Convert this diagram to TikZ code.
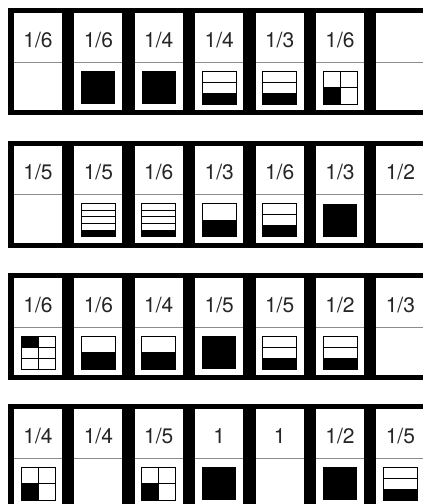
\documentclass[tikz,border=0pt]{standalone}
\usepackage{fontspec}
\setmainfont{TeX Gyre Heros}
\tikzset{
  iconline/.style={draw=black, line width=0.8pt},
  divider/.style={draw=black!45, line width=0.7pt},
  cardlabel/.style={font=\fontsize{21}{24}\selectfont, text=black!85, inner sep=0pt, anchor=center},
}
\newcommand\iconN{}
\newcommand\iconS{\fill (0,0) rectangle (34,33);}
\newcommand\iconstripes[1]{%
  \draw[iconline] (0,0) rectangle (34,33);
  \foreach \k in {1,...,#1}{\draw[iconline] (0,{33*\k/#1}) -- (34,{33*\k/#1});}
  \fill (0,{33-33/#1}) rectangle (34,33);}
\newcommand\icontwo{\iconstripes{2}}
\newcommand\iconthree{\iconstripes{3}}
\newcommand\iconfive{\iconstripes{5}}
\newcommand\iconQ{%
  \draw[iconline] (0,0) rectangle (34,33);
  \draw[iconline] (17,0) -- (17,33) (0,16.5) -- (34,16.5);
  \fill (0,16.5) rectangle (17,33);}
\newcommand\iconX{%
  \draw[iconline] (0,0) rectangle (34,33);
  \draw[iconline] (17,0) -- (17,33) (0,11) -- (34,11) (0,22) -- (34,22);
  \fill (0,0) rectangle (17,11);}
\begin{document}
\begin{tikzpicture}[x=1pt,y=-1pt]
\useasboundingbox (0,0) rectangle (423,504);
\fill[white] (0,0) rectangle (423,504);
\clip (0,0) rectangle (423,504);
\foreach \row/\top/\cards in {
  1/8/{{1/6}/N,{1/6}/S,{1/4}/S,{1/4}/three,{1/3}/three,{1/6}/Q,{}/N},
  2/140.5/{{1/5}/N,{1/5}/five,{1/6}/five,{1/3}/two,{1/6}/three,{1/3}/S,{1/2}/N},
  3/273/{{1/6}/X,{1/6}/two,{1/4}/two,{1/5}/S,{1/5}/three,{1/2}/three,{1/3}/N},
  4/404/{{1/4}/Q,{1/4}/N,{1/5}/Q,{1}/S,{1}/N,{1/2}/S,{1/5}/three}}{
  \fill[black] (8,\top) rectangle (440,\top+107);
  \foreach \lab/\typ [count=\i from 0] in \cards {
    \pgfmathsetmacro\xl{14+60.4*\i}
    \fill[white] (\xl,\top+5) rectangle (\xl+48,\top+102);
    \draw[divider] (\xl,\top+54) -- (\xl+48,\top+54);
    \node[cardlabel] (t\row-\i) at (\xl+24,\top+32) {\lab};
    \begin{scope}[shift={(\xl+7,\top+63)}]
      \csname icon\typ\endcsname
    \end{scope}
  }
}
\end{tikzpicture}
\end{document}
